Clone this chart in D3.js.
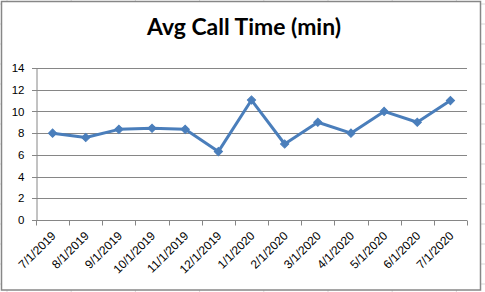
<!DOCTYPE html>
<html><head><meta charset="utf-8">
<script src="https://cdn.jsdelivr.net/npm/d3@7"></script>
<style>html,body{margin:0;padding:0;background:#fff;overflow:hidden}</style>
</head><body><svg id="c" width="485" height="292"></svg>
<script>
const categories = ["7/1/2019","8/1/2019","9/1/2019","10/1/2019","11/1/2019","12/1/2019","1/1/2020","2/1/2020","3/1/2020","4/1/2020","5/1/2020","6/1/2020","7/1/2020"];
const values = [8, 7.6, 8.35, 8.45, 8.35, 6.3, 11.05, 7, 9, 8, 10, 9, 11];
const yTicks = [0, 2, 4, 6, 8, 10, 12, 14];
const title = "Avg Call Time (min)";

const svg = d3.select("#c");
const W = 485, H = 292;

// spreadsheet cell grid behind chart
const bg = svg.append("g");
d3.range(7, W, 64.2).forEach(x => bg.append("line").attr("x1", x).attr("x2", x).attr("y1", 0).attr("y2", H).attr("stroke", "#d9d9d9"));
d3.range(4, H, 20).forEach(y => bg.append("line").attr("x1", 0).attr("x2", W).attr("y1", y).attr("y2", y).attr("stroke", "#d9d9d9"));

// chart area
svg.append("rect").attr("x", 1.5).attr("y", 1.5).attr("width", 479).attr("height", 288.5)
  .attr("fill", "#fff").attr("stroke", "#878787").attr("stroke-width", 1.5);

svg.append("text").attr("x", 244).attr("y", 35).attr("text-anchor", "middle")
  .attr("font-family", "Lato, 'Open Sans', sans-serif").attr("font-weight", "bold").attr("font-size", 22)
  .attr("textLength", 194).attr("lengthAdjust", "spacingAndGlyphs")
  .attr("fill", "#000").text(title);

const x0 = 36, x1 = 467, yTop = 68, yBot = 220;
const x = d3.scaleBand().domain(categories).range([x0, x1]);
const y = d3.scaleLinear().domain([0, 14]).range([yBot, yTop]);

// gridlines
svg.append("g").selectAll("line").data(yTicks).join("line")
  .attr("x1", x0 - 4).attr("x2", x1).attr("y1", d => Math.round(y(d)) + 0.5).attr("y2", d => Math.round(y(d)) + 0.5)
  .attr("stroke", "#868686").attr("stroke-width", 1);

// y axis
const yAxis = d3.axisLeft(y).tickValues(yTicks).tickSize(0).tickPadding(12);
const gy = svg.append("g").attr("transform", `translate(${x0 + 0.5},0)`).call(yAxis);
gy.select(".domain").attr("stroke", "#868686");
gy.selectAll("text").attr("font-family", "'Liberation Sans', Arial, sans-serif").attr("font-size", 11.5).attr("fill", "#000");

// x axis with boundary ticks
const gx = svg.append("g").attr("transform", `translate(0,${Math.round(yBot) + 0.5})`);
gx.append("line").attr("x1", x0).attr("x2", x1).attr("stroke", "#868686");
const bounds = categories.map(c => x(c)).concat([x1]);
gx.selectAll("line.t").data(bounds).join("line").attr("class", "t")
  .attr("x1", d => Math.round(d) + 0.5).attr("x2", d => Math.round(d) + 0.5).attr("y1", 0).attr("y2", 5)
  .attr("stroke", "#868686");
gx.selectAll("text").data(categories).join("text")
  .attr("transform", d => `translate(${x(d) + x.bandwidth() / 2 + 4},16) rotate(-45)`)
  .attr("text-anchor", "end")
  .attr("font-family", "'Liberation Sans', Arial, sans-serif").attr("font-size", 12).attr("fill", "#000")
  .text(d => d);

// series
const cx = d => x(d) + x.bandwidth() / 2;
const line = d3.line().x((d, i) => cx(categories[i])).y(d => y(d));
svg.append("path").datum(values).attr("d", line).attr("fill", "none")
  .attr("stroke", "#4a7ebb").attr("stroke-width", 3).attr("stroke-linejoin", "round");
svg.append("g").selectAll("path").data(values).join("path")
  .attr("d", d3.symbol(d3.symbolSquare, 34))
  .attr("transform", (d, i) => `translate(${cx(categories[i])},${y(d)}) rotate(45)`)
  .attr("fill", "#4a7ebb").attr("stroke", "#4a7ebb").attr("stroke-width", 1);
</script></body></html>
